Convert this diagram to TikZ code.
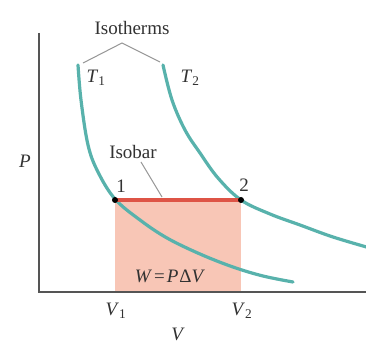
\documentclass[tikz,border=0pt]{standalone}
\usepackage{fontspec}
\setmainfont{Liberation Serif}
\definecolor{teal1}{RGB}{88,178,172}
\definecolor{isored}{RGB}{222,84,70}
\definecolor{workfill}{RGB}{248,198,182}
\definecolor{axisgray}{RGB}{85,85,85}
\definecolor{leadgray}{RGB}{150,150,150}
\definecolor{txt}{RGB}{50,50,50}
\tikzset{
  lbl/.style={inner sep=0pt, text=txt, font=\fontsize{19}{21}\selectfont},
  isotherm/.style={draw=teal1, line width=3.2pt, line cap=round},
  leader/.style={draw=leadgray, line width=1pt},
  axisline/.style={draw=axisgray, line width=1.4pt},
  dot/.style={circle, fill=black, inner sep=0pt, minimum size=6pt}
}
\begin{document}
\begin{tikzpicture}[x=1pt,y=-1pt]
\useasboundingbox[fill=white] (0,0) rectangle (366,344);
% shaded work area
\coordinate (p1) at (115,200);
\coordinate (p2) at (241,200);
\coordinate (v1) at (115,291);
\coordinate (v2) at (241,291);
\fill[workfill] (p1) rectangle (v2);
% axes
\coordinate (origin) at (39,292);
\coordinate (ytop) at (39,33);
\coordinate (xend) at (366,292);
\draw[axisline] (ytop) -- (origin) -- (xend);
% isotherms
\draw[isotherm] plot[smooth, tension=0.6] coordinates {(78,65) (81,100) (88,145) (98,172) (115,199) (140,220) (167,238) (200,254) (233,267) (263,276) (293,282)};
\draw[isotherm] plot[smooth, tension=0.6] coordinates {(163,65) (172,100) (185,130) (200,153) (218,178) (241,200) (270,214) (300,225) (333,237) (370,248)};
% isobar
\draw[isored, line width=3.4pt] (p1) -- (p2);
\node[dot] (d1) at (p1) {};
\node[dot] (d2) at (p2) {};
% labels
\node[lbl] (iso) at (132,28) {Isotherms};
\coordinate (apex) at (122,43);
\coordinate (t1top) at (83,63);
\coordinate (t2top) at (160,62);
\draw[leader] (t1top) -- (apex) -- (t2top);
\node[lbl] (T1) at (96,78) {\textit{T}\textsubscript{1}};
\node[lbl] (T2) at (190,78) {\textit{T}\textsubscript{2}};
\node[lbl] (isobar) at (133,152) {Isobar};
\coordinate (isoend) at (162,197);
\draw[leader] (141,162) -- (isoend);
\node[lbl] (n1) at (121,186) {1};
\node[lbl] (n2) at (244,185) {2};
\node[lbl] (P) at (25,161) {\textit{P}};
\node[lbl] (W) at (170,276) {\textit{W}\hspace{2pt}=\hspace{2pt}\textit{P}\hspace{1pt}Δ\textit{V}};
\node[lbl] (V1) at (116,311) {\textit{V}\textsubscript{1}};
\node[lbl] (V2) at (242,311) {\textit{V}\textsubscript{2}};
\node[lbl] (V) at (178,334) {\textit{V}};
\end{tikzpicture}
\end{document}
